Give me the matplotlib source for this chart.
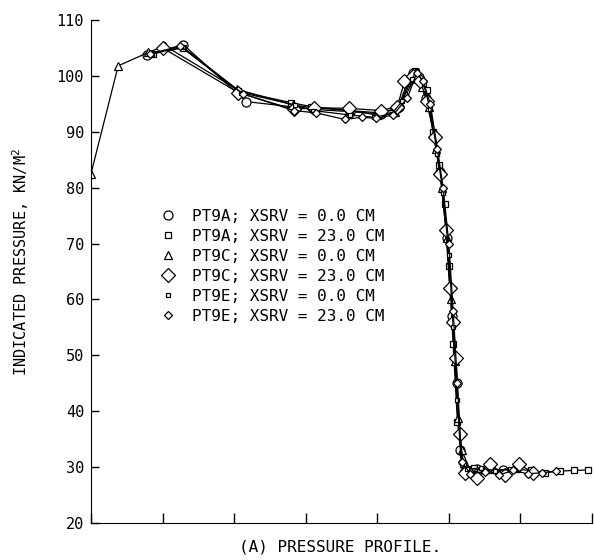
import matplotlib
matplotlib.use("Agg")
import matplotlib.pyplot as plt
from matplotlib.lines import Line2D

plt.rcParams['font.family'] = ['DejaVu Sans Mono', 'DejaVu Sans']

# ---- data (x in station units along the profile, y in kN/m^2) ----
labels = [
    "PT9A; XSRV = 0.0 CM",
    "PT9A; XSRV = 23.0 CM",
    "PT9C; XSRV = 0.0 CM",
    "PT9C; XSRV = 23.0 CM",
    "PT9E; XSRV = 0.0 CM",
    "PT9E; XSRV = 23.0 CM",
]

x_9a_0 = [0.78, 1.29, 2.17, 3.12, 3.62, 4.05, 4.30, 4.50, 4.58, 4.68, 4.80, 4.88, 4.98, 5.05, 5.11,
          5.16, 5.22, 5.40, 5.58, 5.75]
y_9a_0 = [103.8, 105.6, 95.4, 94.0, 93.6, 93.2, 94.5, 100.5, 99.8, 96.0, 89.0, 82.8, 71.0, 57.0, 45.0,
          33.0, 29.3, 29.6, 29.8, 29.4]

x_9a_23 = [0.87, 1.28, 2.05, 2.80, 3.08, 3.60, 4.02, 4.28, 4.42, 4.52, 4.60, 4.70, 4.78, 4.86, 4.94,
           5.00, 5.06, 5.12, 5.20, 5.35, 5.55, 5.75, 5.95, 6.15, 6.35, 6.55, 6.75, 6.95]
y_9a_23 = [104.0, 105.0, 97.3, 95.2, 94.5, 93.8, 93.4, 94.0, 98.8, 100.8, 99.5, 97.5, 90.0, 84.0, 77.0,
           66.0, 52.0, 38.0, 30.5, 29.8, 29.5, 29.1, 29.6, 29.4, 29.0, 29.3, 29.4, 29.5]

x_9c_0 = [0.0, 0.38, 0.80, 1.03, 2.04, 2.82, 3.10, 3.62, 4.00, 4.25, 4.40, 4.53, 4.62, 4.72, 4.82,
          4.90, 4.97, 5.03, 5.08, 5.13, 5.18, 5.30, 5.50]
y_9c_0 = [82.5, 101.8, 104.2, 105.4, 97.6, 94.8, 94.3, 93.8, 93.0, 93.5, 96.5, 100.0, 98.0, 94.5, 87.0,
          80.0, 71.0, 60.0, 49.0, 38.8, 33.0, 29.4, 29.7]

x_9c_23 = [1.00, 2.06, 2.83, 3.12, 3.60, 4.05, 4.28, 4.38, 4.50, 4.60, 4.70, 4.80, 4.88, 4.96, 5.01,
           5.06, 5.10, 5.15, 5.22, 5.40, 5.58, 5.78, 5.98, 6.18]
y_9c_23 = [105.0, 97.0, 94.0, 94.3, 94.2, 93.8, 94.5, 99.0, 100.0, 99.0, 95.5, 89.0, 82.5, 72.5, 62.0,
           56.0, 49.5, 36.0, 29.0, 28.0, 30.5, 28.5, 30.5, 29.0]

x_9e_0 = [0.85, 1.28, 2.10, 2.85, 3.10, 3.62, 3.95, 4.20, 4.35, 4.48, 4.56, 4.65, 4.74, 4.84, 4.92,
          5.00, 5.06, 5.12, 5.17, 5.25, 5.45, 5.65, 5.85]
y_9e_0 = [103.9, 105.2, 97.0, 94.8, 93.8, 93.0, 92.6, 93.2, 95.5, 99.5, 100.8, 98.5, 94.0, 86.0, 79.0,
          68.0, 55.0, 42.0, 31.0, 29.6, 29.9, 29.3, 29.6]

x_9e_23 = [0.82, 1.25, 2.12, 2.83, 3.14, 3.55, 3.78, 3.98, 4.22, 4.42, 4.55, 4.64, 4.74, 4.84, 4.92,
           5.00, 5.06, 5.12, 5.18, 5.30, 5.50, 5.70, 5.90, 6.10, 6.30, 6.50]
y_9e_23 = [104.0, 105.3, 96.8, 93.8, 93.4, 92.2, 92.6, 92.4, 93.0, 96.0, 100.5, 99.0, 95.0, 87.0, 80.0,
           70.0, 58.0, 45.0, 31.0, 28.8, 29.2, 28.6, 29.4, 28.8, 29.0, 29.3]

y_ticks = [20, 30, 40, 50, 60, 70, 80, 90, 100, 110]
x_ticks = [0, 1, 2, 3, 4, 5, 6, 7]

series = [
    (x_9a_0, y_9a_0, 'o', 6.5),
    (x_9a_23, y_9a_23, 's', 4.0),
    (x_9c_0, y_9c_0, '^', 5.5),
    (x_9c_23, y_9c_23, 'D', 7.5),
    (x_9e_0, y_9e_0, 's', 3.2),
    (x_9e_23, y_9e_23, 'D', 4.5),
]

fig = plt.figure(figsize=(5.94, 5.6), dpi=100)
ax = fig.add_axes([91/594, 1-523/560, 501/594, 503/560])

handles = []
for (xs, ys, m, ms), lab in zip(series, labels):
    ax.plot(xs, ys, color='black', lw=0.9, marker=m, ms=ms, mfc='white', mec='black', mew=0.9)
    handles.append(Line2D([], [], ls='none', marker=m, ms=ms, mfc='white', mec='black', mew=0.9))

ax.set_xlim(0, 7)
ax.set_ylim(20, 110)
ax.set_yticks(y_ticks)
ax.set_xticks(x_ticks)
ax.set_xticklabels([])
ax.spines['top'].set_visible(False)
ax.spines['right'].set_visible(False)
ax.tick_params(axis='y', direction='in', length=6, width=1, labelsize=11, pad=5)
ax.tick_params(axis='x', direction='in', length=7, width=1)

ax.set_ylabel("INDICATED PRESSURE, KN/M$^2$", fontsize=11)
ax.yaxis.set_label_coords(-0.12, 0.52)

fig.text(340/594, 1-547/560, "(A) PRESSURE PROFILE.", ha='center', va='center', fontsize=11.5)

leg = ax.legend(handles, labels, loc='upper left', bbox_to_anchor=(150/594, 1-201/560),
                bbox_transform=fig.transFigure, frameon=False, fontsize=11.5,
                handletextpad=0.95, labelspacing=0.31, handlelength=1.2, borderpad=0)

fig.savefig("out.png", dpi=100)
